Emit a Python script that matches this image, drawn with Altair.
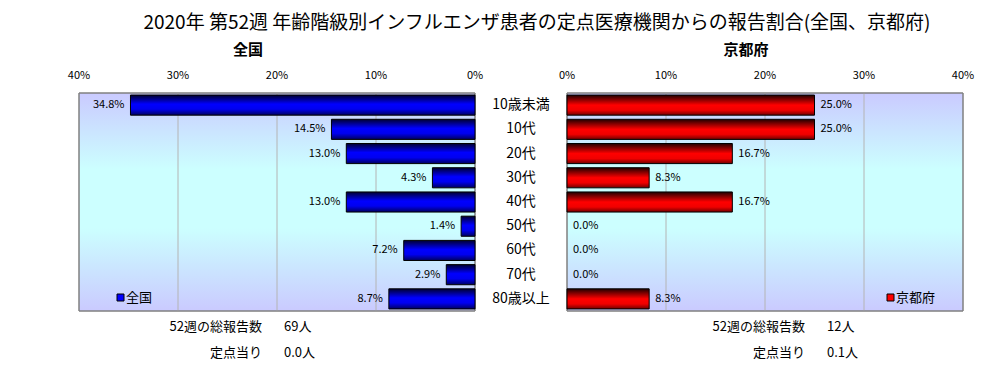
import altair as alt
import pandas as pd

# ---------------- data ----------------
categories = ["10歳未満", "10代", "20代", "30代", "40代", "50代", "60代", "70代", "80歳以上"]
national = [34.8, 14.5, 13.0, 4.3, 13.0, 1.4, 7.2, 2.9, 8.7]
kyoto = [25.0, 25.0, 16.7, 8.3, 16.7, 0.0, 0.0, 0.0, 8.3]
ticks = [0, 10, 20, 30, 40]
tick_labels = ["0%", "10%", "20%", "30%", "40%"]
grid_ticks = [10, 20, 30]

title_text = "2020年 第52週 年齢階級別インフルエンザ患者の定点医療機関からの報告割合(全国、京都府)"
panel_titles = ["全国", "京都府"]
total_label = "52週の総報告数"
per_label = "定点当り"
national_total = "69人"
national_per = "0.0人"
kyoto_total = "12人"
kyoto_per = "0.1人"

# ---------------- layout ----------------
FONT = "Noto Sans CJK JP"
W, H = 990, 355
LX0, LX1 = 71, 467
RX0, RX1 = 559, 955
PY0, PY1 = 85, 303

df = pd.DataFrame({
    "cat": categories,
    "nat": national,
    "kyo": kyoto,
    "nat_lbl": [f"{v:.1f}%" for v in national],
    "kyo_lbl": [f"{v:.1f}%" for v in kyoto],
})
tick_df = pd.DataFrame({"t": ticks, "lbl": tick_labels})
grid_df = pd.DataFrame({"t": grid_ticks})
one = pd.DataFrame({"a": [0]})

yscale = alt.Scale(domain=categories, range=[PY0, PY1], paddingInner=0.17, paddingOuter=0.085)
Y = alt.Y("cat:N", sort=categories, scale=yscale, axis=None)

bg_grad = {
    "gradient": "linear", "x1": 0, "y1": 0, "x2": 0, "y2": 1,
    "stops": [
        {"offset": 0, "color": "#CACAFF"},
        {"offset": 0.35, "color": "#CCFFFF"},
        {"offset": 0.62, "color": "#CCFFFF"},
        {"offset": 1, "color": "#CACAFF"},
    ],
}
blue_grad = {
    "gradient": "linear", "x1": 0, "y1": 0, "x2": 0, "y2": 1,
    "stops": [
        {"offset": 0, "color": "#000030"},
        {"offset": 0.45, "color": "#0000FF"},
        {"offset": 0.7, "color": "#0000F0"},
        {"offset": 1, "color": "#000060"},
    ],
}
red_grad = {
    "gradient": "linear", "x1": 0, "y1": 0, "x2": 0, "y2": 1,
    "stops": [
        {"offset": 0, "color": "#200000"},
        {"offset": 0.5, "color": "#FF0000"},
        {"offset": 0.75, "color": "#F00000"},
        {"offset": 1, "color": "#700000"},
    ],
}


def txt(text, x, y, size=13, align="center", weight="normal"):
    return alt.Chart(one).mark_text(
        font=FONT, fontSize=size, align=align, baseline="middle",
        fontWeight=weight, color="black"
    ).encode(x=alt.value(x), y=alt.value(y), text=alt.value(text))


def panel(field, lbl_field, x0, x1, grad, left):
    xs = alt.Scale(domain=[0, 40], range=[x1, x0] if left else [x0, x1], nice=False, zero=True)
    bg = alt.Chart(one).mark_rect(fill=bg_grad, stroke="#808080", strokeWidth=1).encode(
        x=alt.value(x0), x2=alt.value(x1), y=alt.value(PY0), y2=alt.value(PY1)
    )
    grid = alt.Chart(grid_df).mark_rule(color="#B4B4B4", strokeWidth=1).encode(
        x=alt.X("t:Q", scale=xs, axis=None), y=alt.value(PY0), y2=alt.value(PY1)
    )
    border = alt.Chart(one).mark_rect(fill=None, stroke="#808080", strokeWidth=1).encode(
        x=alt.value(x0), x2=alt.value(x1), y=alt.value(PY0), y2=alt.value(PY1)
    )
    bars = alt.Chart(df).transform_filter(f"datum.{field} > 0").mark_bar(
        fill=grad, stroke="black", strokeWidth=1
    ).encode(
        x=alt.X(f"{field}:Q", scale=xs, axis=None), y=Y
    )
    labels = alt.Chart(df).mark_text(
        font=FONT, fontSize=11, align="right" if left else "left",
        dx=-6 if left else 6, baseline="middle", color="black"
    ).encode(x=alt.X(f"{field}:Q", scale=xs, axis=None), y=Y, text=f"{lbl_field}:N")
    tlabels = alt.Chart(tick_df).mark_text(
        font=FONT, fontSize=11, align="center", baseline="middle", color="black"
    ).encode(x=alt.X("t:Q", scale=xs, axis=None), y=alt.value(68), text="lbl:N")
    return alt.layer(bg, grid, border, bars, labels, tlabels)


left = panel("nat", "nat_lbl", LX0, LX1, blue_grad, True)
right = panel("kyo", "kyo_lbl", RX0, RX1, red_grad, False)

cat_labels = alt.Chart(df).mark_text(
    font=FONT, fontSize=14, align="center", baseline="middle", color="black"
).encode(x=alt.value(513), y=Y, text="cat:N")

legend_l_sq = alt.Chart(one).mark_rect(fill="#0000FF", stroke="black", strokeWidth=1).encode(
    x=alt.value(109), x2=alt.value(116), y=alt.value(286), y2=alt.value(293)
)
legend_r_sq = alt.Chart(one).mark_rect(fill="#FF0000", stroke="black", strokeWidth=1).encode(
    x=alt.value(879), x2=alt.value(886), y=alt.value(286), y2=alt.value(293)
)

texts = [
    txt(title_text, 529, 15, size=19),
    txt(panel_titles[0], 240, 42, size=15, weight="bold"),
    txt(panel_titles[1], 738, 42, size=15, weight="bold"),
    txt(panel_titles[0], 118, 290, size=13, align="left"),
    txt(panel_titles[1], 888, 290, size=13, align="left"),
    txt(total_label, 254, 319, size=13, align="right"),
    txt(national_total, 276, 319, size=13, align="left"),
    txt(per_label, 254, 345, size=13, align="right"),
    txt(national_per, 276, 345, size=13, align="left"),
    txt(total_label, 797, 319, size=13, align="right"),
    txt(kyoto_total, 819, 319, size=13, align="left"),
    txt(per_label, 797, 345, size=13, align="right"),
    txt(kyoto_per, 819, 345, size=13, align="left"),
]

chart = alt.layer(
    left, right, cat_labels, legend_l_sq, legend_r_sq, *texts
).resolve_scale(x="independent").properties(
    width=W, height=H, autosize=alt.AutoSizeParams(type="none"), padding=0
).configure_view(stroke=None)

chart.save("out.html", embed_options={"renderer": "svg", "actions": False})
